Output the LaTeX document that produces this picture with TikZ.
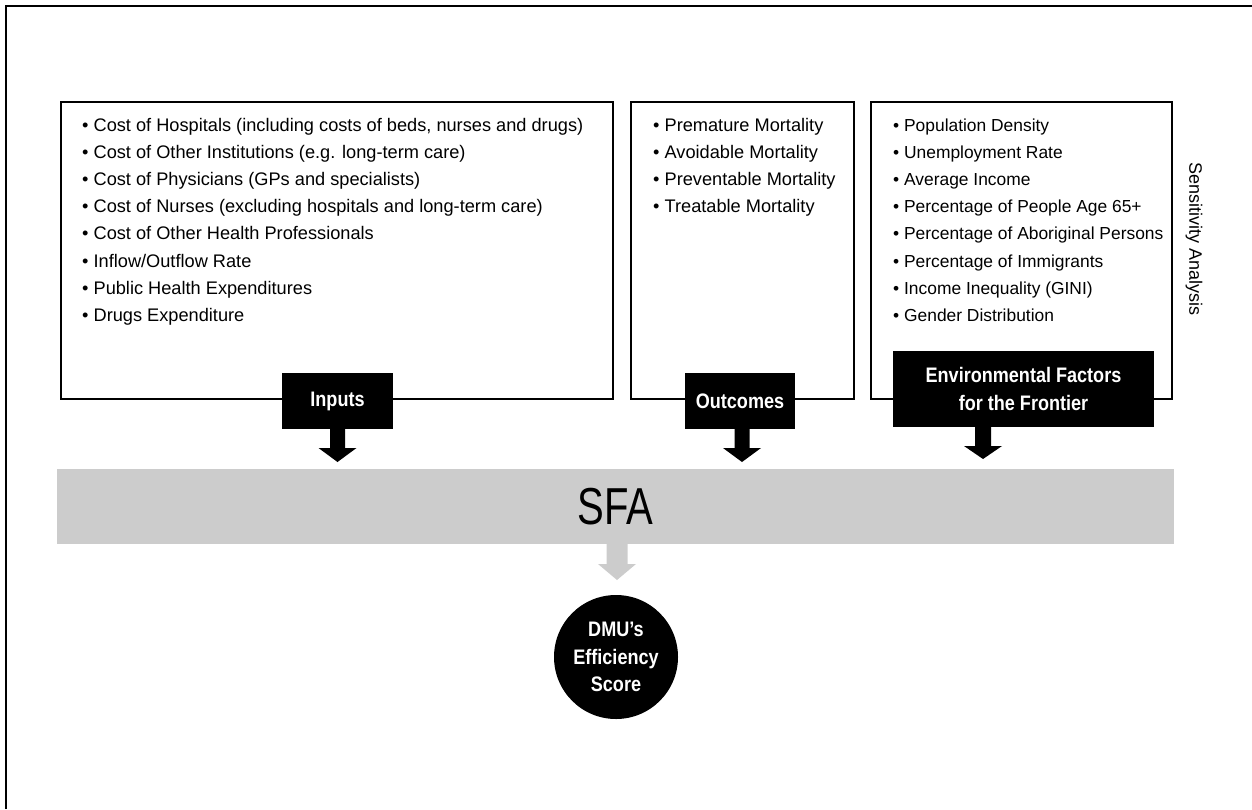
\documentclass[tikz,border=0pt]{standalone}
\usepackage{fontspec}
\setmainfont{Liberation Sans}
\newfontfamily\narrowfont[FakeStretch=0.86]{Liberation Sans}
\newfontfamily\sfafont[FakeStretch=0.77]{Liberation Sans}
\definecolor{barfill}{RGB}{204,204,204}

\begin{document}
\begin{tikzpicture}[x=1pt,y=-1pt,
  listbox/.style={draw=black, line width=2.2pt, anchor=north west, inner sep=0pt, outer sep=0pt},
  item/.style={anchor=base west, inner sep=0pt, font=\fontsize{18.2}{22}\selectfont},
  tag/.style={fill=black, text=white, inner sep=0pt, outer sep=0pt, align=center,
              font=\narrowfont\bfseries\fontsize{21}{27.3}\selectfont},
]
\useasboundingbox (0,0) rectangle (1252,809);

% page frame (top and left edges)
\draw[line width=2pt] (6,809) -- (6,6) -- (1252,6);

% the three list boxes
\node[listbox, minimum width=552pt, minimum height=297pt] (inbox)  at (61,102)  {};
\node[listbox, minimum width=223pt, minimum height=297pt] (outbox) at (631,102) {};
\node[listbox, minimum width=301pt, minimum height=297pt] (envbox) at (871,102) {};

% list items
\foreach \t [count=\i] in {
  {Cost of Hospitals (including costs of beds, nurses and drugs)},
  {Cost of Other Institutions (e.g. long-term care)},
  {Cost of Physicians (GPs and specialists)},
  {Cost of Nurses (excluding hospitals and long-term care)},
  {Cost of Other Health Professionals},
  {Inflow/Outflow Rate},
  {Public Health Expenditures},
  {Drugs Expenditure}}
  \node[item] (in\i) at (82,{131+27.2*(\i-1)}) {• \t};

\foreach \t [count=\i] in {
  {Premature Mortality},
  {Avoidable Mortality},
  {Preventable Mortality},
  {Treatable Mortality}}
  \node[item] (out\i) at (653,{131+27.2*(\i-1)}) {• \t};

\foreach \t [count=\i] in {
  {Population Density},
  {Unemployment Rate},
  {Average Income},
  {Percentage of People Age 65+},
  {Percentage of Aboriginal Persons},
  {Percentage of Immigrants},
  {Income Inequality (GINI)},
  {Gender Distribution}}
  \node[item, font=\fontsize{17.4}{22}\selectfont] (env\i) at (893,{131+27.2*(\i-1)}) {• \t};

% side caption
\node[rotate=-90, inner sep=0pt, font=\fontsize{18}{22}\selectfont] (sens) at (1194,239) {Sensitivity Analysis};

% black tags on the box edges
\node[tag, minimum width=111pt, minimum height=56pt] (inlab)  at (337.5,401) {Inputs};
\node[tag, minimum width=110pt, minimum height=56pt] (outlab) at (740,401)   {Outcomes};
\node[tag, minimum width=261pt, minimum height=76pt] (envlab) at (1023.5,389) {Environmental Factors\\for the Frontier};

% SFA bar
\node[fill=barfill, minimum width=1117pt, minimum height=75pt, inner sep=0pt, outer sep=0pt,
      font=\sfafont\fontsize{52}{52}\selectfont] (sfa) at (615.5,506.5) {SFA};

% result
\node[circle, fill=black, minimum size=124pt, inner sep=0pt, text=white, align=center,
      font=\narrowfont\bfseries\fontsize{21}{27.5}\selectfont] (dmu) at (616,657) {DMU’s\\Efficiency\\Score};

% block arrows into the bar
\fill[black] (inlab.south) ++(-7.5,0) -- ++(0,19) -- ++(-11.5,0) -- ++(19,14) -- ++(19,-14)
  -- ++(-11.5,0) -- ++(0,-19) -- cycle;
\fill[black] ([xshift=2pt]outlab.south) ++(-7.5,0) -- ++(0,19) -- ++(-11.5,0) -- ++(19,14) -- ++(19,-14)
  -- ++(-11.5,0) -- ++(0,-19) -- cycle;
\fill[black] ([xshift=-40.5pt]envlab.south) ++(-8,0) -- ++(0,19) -- ++(-11,0) -- ++(19,13) -- ++(19,-13)
  -- ++(-11,0) -- ++(0,-19) -- cycle;

% grey arrow from the bar to the score
\fill[barfill] (sfa.south) ++(-9,0) -- ++(0,20) -- ++(-8.5,0) -- ++(19,16) -- ++(19,-16)
  -- ++(-8.5,0) -- ++(0,-20) -- cycle;
\end{tikzpicture}
\end{document}
